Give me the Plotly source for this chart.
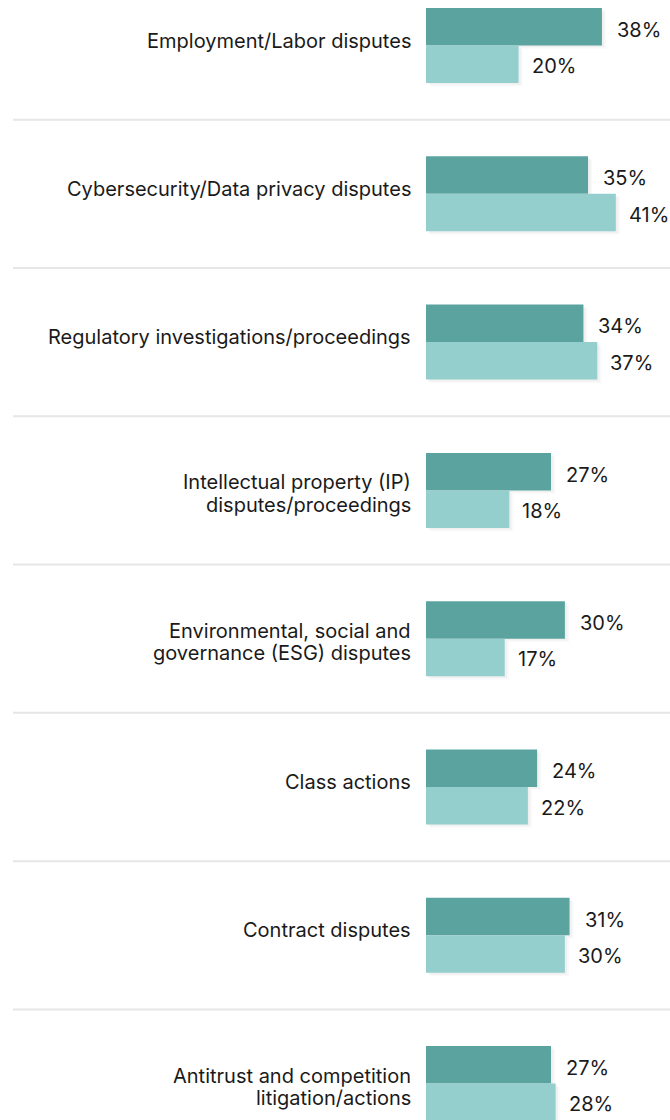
import plotly.graph_objects as go

categories = [
    "Employment/Labor disputes",
    "Cybersecurity/Data privacy disputes",
    "Regulatory investigations/proceedings",
    "Intellectual property (IP)<br>disputes/proceedings",
    "Environmental, social and<br>governance (ESG) disputes",
    "Class actions",
    "Contract disputes",
    "Antitrust and competition<br>litigation/actions",
]
series_a = [38, 35, 34, 27, 30, 24, 31, 27]   # dark teal
series_b = [20, 41, 37, 18, 17, 22, 30, 28]   # light teal

DARK = "#5ba39f"
LIGHT = "#94cfce"
TEXT = "#1a1a1a"
FONT = "Inter"
FS = 20

W, H = 670, 1120
left = 426
px_per_unit = 4.63
xmax = (W - left) / px_per_unit
spacing = 148.3
first_center = 45.5
bw = 37.5 / spacing
ytop = (0 - first_center) / spacing
ybot = (H - first_center) / spacing

idx = list(range(len(categories)))

fig = go.Figure()
# soft shadows
for k, (vals, off) in enumerate(((series_a, -bw), (series_b, 0))):
    for s, a in ((0.9, 0.025), (0.5, 0.035)):
        fig.add_trace(go.Bar(
            y=[i + s * 0.025 for i in idx], x=vals, base=s, orientation="h",
            width=bw, offset=off, marker=dict(color=f"rgba(0,0,0,{a})", line=dict(width=0)),
            hoverinfo="skip", showlegend=False))
fig.add_trace(go.Bar(y=idx, x=series_a, orientation="h", width=bw, offset=-bw,
                     marker=dict(color=DARK, line=dict(width=0)), showlegend=False))
fig.add_trace(go.Bar(y=idx, x=series_b, orientation="h", width=bw, offset=0,
                     marker=dict(color=LIGHT, line=dict(width=0)), showlegend=False))

annotations = []
for i, (cat, a, b) in enumerate(zip(categories, series_a, series_b)):
    lines = cat.split("<br>")
    if len(lines) == 1:
        shifts = [5]
    else:
        shifts = [8, -14.5]
    for line, sh in zip(lines, shifts):
        annotations.append(dict(x=0, y=i, xref="x", yref="y", text=line, showarrow=False,
                                xanchor="right", yanchor="middle", align="right",
                                xshift=-13, yshift=sh,
                                font=dict(family=FONT, size=FS, color=TEXT)))
    annotations.append(dict(x=a, y=i - bw / 2, xref="x", yref="y", text=f"{a}%", showarrow=False,
                            xanchor="left", yanchor="middle", xshift=13, yshift=-3,
                            font=dict(family=FONT, size=FS, color=TEXT)))
    annotations.append(dict(x=b, y=i + bw / 2, xref="x", yref="y", text=f"{b}%", showarrow=False,
                            xanchor="left", yanchor="middle", xshift=11, yshift=-2,
                            font=dict(family=FONT, size=FS, color=TEXT)))

shapes = []
for i in range(len(categories) - 1):
    shapes.append(dict(type="line", xref="paper", yref="y",
                       x0=-(left - 13) / (W - left), x1=1, y0=i + 0.5, y1=i + 0.5,
                       line=dict(color="#e6e6e6", width=2), layer="below"))

fig.update_layout(
    width=W, height=H,
    margin=dict(l=left, r=0, t=0, b=0),
    paper_bgcolor="white", plot_bgcolor="white",
    barmode="overlay",
    xaxis=dict(range=[0, xmax], visible=False, fixedrange=True),
    yaxis=dict(range=[ybot, ytop], visible=False, fixedrange=True),
    annotations=annotations, shapes=shapes,
)
fig.write_html("out.html", config={"displayModeBar": False},
               post_script="document.body.style.margin='0';document.body.style.overflow='hidden';")
